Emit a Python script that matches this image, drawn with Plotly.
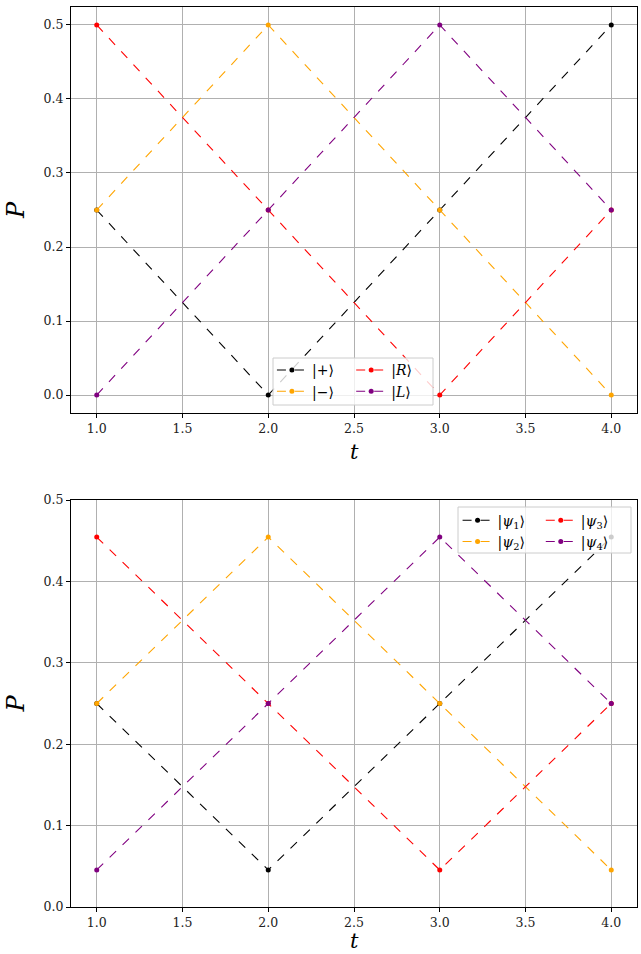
import plotly.graph_objects as go

t = [1.0, 2.0, 3.0, 4.0]

# top panel
plus_vals = [0.25, 0.0, 0.25, 0.5]
minus_vals = [0.25, 0.5, 0.25, 0.0]
R_vals = [0.5, 0.25, 0.0, 0.25]
L_vals = [0.0, 0.25, 0.5, 0.25]

# bottom panel
psi1_vals = [0.25, 0.0455, 0.25, 0.4545]
psi2_vals = [0.25, 0.4545, 0.25, 0.0455]
psi3_vals = [0.4545, 0.25, 0.0455, 0.25]
psi4_vals = [0.0455, 0.25, 0.4545, 0.25]

top_names = ["|+⟩", "|−⟩", "|<i>R</i>⟩", "|<i>L</i>⟩"]
bot_names = ["|<i>ψ</i><sub>1</sub>⟩", "|<i>ψ</i><sub>2</sub>⟩",
             "|<i>ψ</i><sub>3</sub>⟩", "|<i>ψ</i><sub>4</sub>⟩"]
colors = ["black", "orange", "red", "purple"]

FONT = "DejaVu Serif"

fig = go.Figure()

top_series = [plus_vals, minus_vals, R_vals, L_vals]
bot_series = [psi1_vals, psi2_vals, psi3_vals, psi4_vals]
top_leg = ["legend", "legend", "legend2", "legend2"]
bot_leg = ["legend3", "legend3", "legend4", "legend4"]

for vals, name, c, lg in zip(top_series, top_names, colors, top_leg):
    fig.add_trace(go.Scatter(x=t, y=vals, name=name, mode="lines+markers",
                             line=dict(color=c, width=1.1, dash="dash"),
                             marker=dict(color=c, size=5),
                             xaxis="x", yaxis="y", legend=lg))
for vals, name, c, lg in zip(bot_series, bot_names, colors, bot_leg):
    fig.add_trace(go.Scatter(x=t, y=vals, name=name, mode="lines+markers",
                             line=dict(color=c, width=1.1, dash="dash"),
                             marker=dict(color=c, size=5),
                             xaxis="x2", yaxis="y2", legend=lg))

axis_common = dict(
    showline=True, linecolor="black", linewidth=1, mirror=True,
    ticks="outside", ticklen=4, tickcolor="black", tickwidth=1,
    showgrid=True, gridcolor="#b0b0b0", gridwidth=1, zeroline=False,
    tickfont=dict(family=FONT, size=12.5, color="#222"),
    tickformat=".1f", automargin=False,
)

xvals = [1.0, 1.5, 2.0, 2.5, 3.0, 3.5, 4.0]
yvals = [0.0, 0.1, 0.2, 0.3, 0.4, 0.5]

fig.update_layout(
    width=641, height=954,
    margin=dict(l=71, r=4, t=7, b=47),
    paper_bgcolor="white", plot_bgcolor="white",
    font=dict(family=FONT, color="black"),
    xaxis=dict(axis_common, domain=[0, 1], range=[0.85, 4.15], tickvals=xvals,
               anchor="y"),
    yaxis=dict(axis_common, domain=[0.5489, 1.0], range=[-0.0243, 0.5243], tickvals=yvals,
               anchor="x",
               title=dict(text="<i>P</i>", font=dict(family=FONT, size=24), standoff=12)),
    xaxis2=dict(axis_common, domain=[0, 1], range=[0.85, 4.15], tickvals=xvals,
                anchor="y2"),
    yaxis2=dict(axis_common, domain=[0, 0.4522], range=[0, 0.5], tickvals=yvals,
                anchor="x2",
                title=dict(text="<i>P</i>", font=dict(family=FONT, size=24), standoff=12)),
    showlegend=True,
)

# x-axis titles as annotations
for ycen in [452, 941]:
    fig.add_annotation(text="<i>t</i>", xref="paper", yref="paper",
                       x=0.5, y=(907 - ycen) / 900.0, xanchor="center", yanchor="middle",
                       showarrow=False, borderpad=0,
                       font=dict(family=FONT, size=21, color="black"))

leg_common = dict(bgcolor="rgba(0,0,0,0)", borderwidth=0,
                  font=dict(family=FONT, size=14), itemwidth=30,
                  xanchor="left", yanchor="top", tracegroupgap=0)
fig.update_layout(
    legend=dict(leg_common, x=0.355, y=0.614),
    legend2=dict(leg_common, x=0.495, y=0.614),
    legend3=dict(leg_common, x=0.683, y=0.447),
    legend4=dict(leg_common, x=0.83, y=0.447),
)

# legend frames
def px_to_paper_x(px):
    return (px - 71) / 566.0

def px_to_paper_y(py):
    return (907 - py) / 900.0

for (x0, y0, x1, y1) in [(273, 358, 433, 405), (458, 507, 631, 553)]:
    fig.add_shape(type="rect", xref="paper", yref="paper",
                  x0=px_to_paper_x(x0), x1=px_to_paper_x(x1),
                  y0=px_to_paper_y(y1), y1=px_to_paper_y(y0),
                  line=dict(color="#cccccc", width=1),
                  fillcolor="rgba(255,255,255,0.8)", layer="above")

fig.write_html("out.html")
